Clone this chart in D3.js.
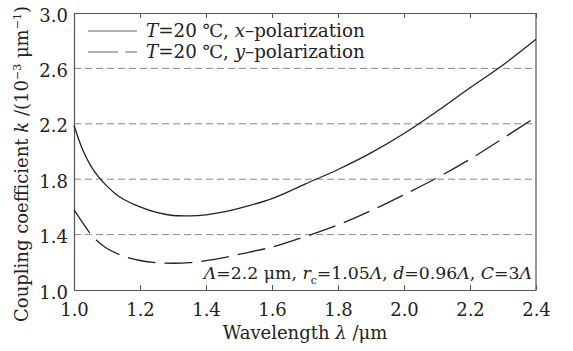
<!DOCTYPE html>
<html>
<head>
<meta charset="utf-8">
<script src="https://cdn.jsdelivr.net/npm/d3@7"></script>
<style>
  body { margin: 0; background: #fff; }
  svg text { font-family: "DejaVu Serif", "Liberation Serif", serif; fill: #222; }
</style>
</head>
<body>
<script>
// wavelength samples (um) and coupling coefficient k (1e-3 /um)
const lambdaX = [1.0, 1.025, 1.05, 1.075, 1.1, 1.125, 1.15, 1.2, 1.25, 1.3, 1.35, 1.4, 1.45, 1.5, 1.6, 1.7, 1.8, 1.9, 2.0, 2.1, 2.2, 2.3, 2.4];
const kX      = [2.19, 2.02, 1.90, 1.815, 1.75, 1.695, 1.655, 1.60, 1.56, 1.538, 1.535, 1.543, 1.562, 1.59, 1.66, 1.765, 1.87, 1.99, 2.13, 2.29, 2.46, 2.625, 2.81];

const lambdaY = [1.0, 1.025, 1.05, 1.075, 1.1, 1.15, 1.2, 1.25, 1.3, 1.35, 1.4, 1.45, 1.5, 1.6, 1.7, 1.8, 1.9, 2.0, 2.1, 2.2, 2.3, 2.4];
const kY      = [1.578, 1.49, 1.405, 1.345, 1.30, 1.245, 1.213, 1.197, 1.193, 1.197, 1.212, 1.232, 1.258, 1.31, 1.385, 1.47, 1.573, 1.688, 1.81, 1.945, 2.095, 2.25];

const xTicks = [1.0, 1.2, 1.4, 1.6, 1.8, 2.0, 2.2, 2.4];
const yTicks = [1.0, 1.4, 1.8, 2.2, 2.6, 3.0];
const gridValues = [1.4, 1.8, 2.2, 2.6];

const w = 573, h = 351;
const m = {left: 74, right: 37, top: 13, bottom: 61};

const svg = d3.select('body').append('svg')
  .attr('width', w).attr('height', h);

const x = d3.scaleLinear().domain([1.0, 2.4]).range([m.left, w - m.right]);
const y = d3.scaleLinear().domain([1.0, 3.0]).range([h - m.bottom, m.top]);

// dashed grid
svg.append('g').selectAll('line')
  .data(gridValues).enter().append('line')
  .attr('x1', x(1.0)).attr('x2', x(2.4))
  .attr('y1', d => y(d)).attr('y2', d => y(d))
  .attr('stroke', '#888').attr('stroke-width', 1)
  .attr('stroke-dasharray', '7,4');

// axes: ticks inward, frame on all sides
const xAxis = d3.axisBottom(x).tickValues(xTicks).tickFormat(d3.format('.1f')).tickSizeInner(-5).tickSizeOuter(0).tickPadding(13);
const xAxisTop = d3.axisTop(x).tickValues(xTicks).tickFormat('').tickSizeInner(-5).tickSizeOuter(0);
const yAxis = d3.axisLeft(y).tickValues(yTicks).tickFormat(d3.format('.1f')).tickSize(0).tickPadding(6);

const gx = svg.append('g').attr('transform', 'translate(0,' + y(1.0) + ')').call(xAxis);
const gxt = svg.append('g').attr('transform', 'translate(0,' + y(3.0) + ')').call(xAxisTop);
const gy = svg.append('g').attr('transform', 'translate(' + x(1.0) + ',0)').call(yAxis);
svg.append('line').attr('x1', x(2.4)).attr('x2', x(2.4)).attr('y1', y(1.0)).attr('y2', y(3.0))
  .attr('stroke', '#555').attr('stroke-width', 1.2);

[gx, gxt, gy].forEach(g => {
  g.select('.domain').attr('stroke', '#555').attr('stroke-width', 1.2);
  g.selectAll('.tick line').attr('stroke', '#555');
  g.selectAll('.tick text').style('font-size', '18px').attr('fill', '#222');
});
gy.selectAll('.tick text').attr('dy', '0.45em');

// curves
const line = d3.line().x(d => x(d[0])).y(d => y(d[1])).curve(d3.curveCatmullRom);
const seriesX = lambdaX.map((l, i) => [l, kX[i]]);
const seriesY = lambdaY.map((l, i) => [l, kY[i]]);

svg.append('path').datum(seriesX).attr('d', line)
  .attr('fill', 'none').attr('stroke', '#222').attr('stroke-width', 1.3);
svg.append('path').datum(seriesY).attr('d', line)
  .attr('fill', 'none').attr('stroke', '#222').attr('stroke-width', 1.3)
  .attr('stroke-dasharray', '28,9');

// legend
const legend = svg.append('g');
legend.append('line').attr('x1', 88).attr('x2', 137).attr('y1', 31).attr('y2', 31)
  .attr('stroke', '#666').attr('stroke-width', 1.1);
legend.append('line').attr('x1', 88).attr('x2', 137).attr('y1', 52).attr('y2', 52)
  .attr('stroke', '#666').attr('stroke-width', 1.1).attr('stroke-dasharray', '30,7');

const leg1 = legend.append('text').attr('x', 146).attr('y', 37).style('font-size', '18.3px');
leg1.append('tspan').style('font-style', 'italic').text('T');
leg1.append('tspan').text('=20 ℃, ');
leg1.append('tspan').style('font-style', 'italic').text('x');
leg1.append('tspan').text('–polarization');

const leg2 = legend.append('text').attr('x', 146).attr('y', 58).style('font-size', '18.3px');
leg2.append('tspan').style('font-style', 'italic').text('T');
leg2.append('tspan').text('=20 ℃, ');
leg2.append('tspan').style('font-style', 'italic').text('y');
leg2.append('tspan').text('–polarization');

// parameters annotation
const note = svg.append('text').attr('x', 532).attr('y', 279)
  .attr('text-anchor', 'end').style('font-size', '17.3px');
note.append('tspan').style('font-style', 'italic').text('Λ');
note.append('tspan').text('=2.2 μm, ');
note.append('tspan').style('font-style', 'italic').text('r');
note.append('tspan').attr('dy', 5).style('font-size', '11px').text('c');
note.append('tspan').attr('dy', -5).text('=1.05');
note.append('tspan').style('font-style', 'italic').text('Λ');
note.append('tspan').text(', ');
note.append('tspan').style('font-style', 'italic').text('d');
note.append('tspan').text('=0.96');
note.append('tspan').style('font-style', 'italic').text('Λ');
note.append('tspan').text(', ');
note.append('tspan').style('font-style', 'italic').text('C');
note.append('tspan').text('=3');
note.append('tspan').style('font-style', 'italic').text('Λ');

// axis titles
const xt = svg.append('text').attr('x', 305).attr('y', 339)
  .attr('text-anchor', 'middle').style('font-size', '18px');
xt.append('tspan').text('Wavelength ');
xt.append('tspan').style('font-style', 'italic').text('λ');
xt.append('tspan').text(' /μm');

const yt = svg.append('text')
  .attr('transform', 'translate(28,' + 164 + ') rotate(-90)')
  .attr('text-anchor', 'middle').style('font-size', '18px');
yt.append('tspan').text('Coupling coefficient ');
yt.append('tspan').style('font-style', 'italic').text('k');
yt.append('tspan').text(' /(10');
yt.append('tspan').attr('dy', -7).style('font-size', '11px').text('−3');
yt.append('tspan').attr('dy', 7).text(' μm');
yt.append('tspan').attr('dy', -7).style('font-size', '11px').text('−1');
yt.append('tspan').attr('dy', 7).text(')');
</script>
</body>
</html>
